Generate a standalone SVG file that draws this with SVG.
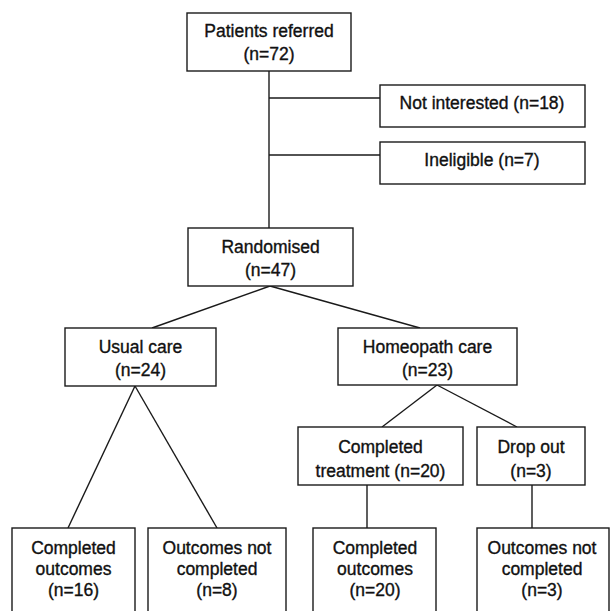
<svg xmlns="http://www.w3.org/2000/svg" width="612" height="611" viewBox="0 0 612 611">
<style>
.box{fill:#fff;stroke:#1a1a1a;stroke-width:1.4}
.t{font-family:"Liberation Sans",Arial,sans-serif;font-size:17.5px;fill:#111;stroke:#111;stroke-width:0.35;text-anchor:middle}
.c{stroke:#1a1a1a;stroke-width:1.4;fill:none}
</style>
<rect width="612" height="611" fill="#fff"/>
<g id="connectors">
<line class="c" x1="269" y1="71" x2="269" y2="228"/>
<line class="c" x1="269" y1="98" x2="380" y2="98"/>
<line class="c" x1="269" y1="155" x2="380" y2="155"/>
<line class="c" x1="270" y1="286" x2="152" y2="328"/>
<line class="c" x1="270" y1="286" x2="420" y2="328"/>
<line class="c" x1="135" y1="386" x2="68" y2="528"/>
<line class="c" x1="135" y1="386" x2="217" y2="528"/>
<line class="c" x1="437" y1="385" x2="382" y2="427"/>
<line class="c" x1="437" y1="385" x2="517" y2="427"/>
<line class="c" x1="367" y1="485" x2="367" y2="528"/>
<line class="c" x1="532" y1="485" x2="532" y2="528"/>
</g>
<g id="referred">
<rect class="box" x="187" y="13" width="164" height="58"/>
<text class="t" x="269" y="37">Patients referred</text>
<text class="t" x="269" y="60">(n=72)</text>
</g>
<g id="notinterested">
<rect class="box" x="380" y="85" width="205" height="42"/>
<text class="t" x="482" y="109">Not interested (n=18)</text>
</g>
<g id="ineligible">
<rect class="box" x="380" y="142" width="205" height="42"/>
<text class="t" x="482" y="166">Ineligible (n=7)</text>
</g>
<g id="randomised">
<rect class="box" x="188" y="228" width="165" height="58"/>
<text class="t" x="270.5" y="253">Randomised</text>
<text class="t" x="270.5" y="276">(n=47)</text>
</g>
<g id="usual">
<rect class="box" x="65" y="328" width="151" height="58"/>
<text class="t" x="140.5" y="353">Usual care</text>
<text class="t" x="140.5" y="376">(n=24)</text>
</g>
<g id="homeopath">
<rect class="box" x="338" y="328" width="179" height="57"/>
<text class="t" x="427.5" y="353">Homeopath care</text>
<text class="t" x="427.5" y="376">(n=23)</text>
</g>
<g id="completedtreatment">
<rect class="box" x="298" y="427" width="165" height="58"/>
<text class="t" x="380.5" y="453">Completed</text>
<text class="t" x="380.5" y="477">treatment (n=20)</text>
</g>
<g id="dropout">
<rect class="box" x="477" y="427" width="108" height="58"/>
<text class="t" x="531" y="453">Drop out</text>
<text class="t" x="531" y="477">(n=3)</text>
</g>
<g id="usualcompleted">
<rect class="box" x="12" y="528" width="123" height="100"/>
<text class="t" x="73.5" y="554">Completed</text>
<text class="t" x="73.5" y="575">outcomes</text>
<text class="t" x="73.5" y="596">(n=16)</text>
</g>
<g id="usualnotcompleted">
<rect class="box" x="148" y="528" width="138" height="100"/>
<text class="t" x="217" y="554">Outcomes not</text>
<text class="t" x="217" y="575">completed</text>
<text class="t" x="217" y="596">(n=8)</text>
</g>
<g id="homeocompleted">
<rect class="box" x="313" y="528" width="123" height="100"/>
<text class="t" x="375" y="554">Completed</text>
<text class="t" x="375" y="575">outcomes</text>
<text class="t" x="375" y="596">(n=20)</text>
</g>
<g id="homeonotcompleted">
<rect class="box" x="477" y="528" width="132" height="100"/>
<text class="t" x="542" y="554">Outcomes not</text>
<text class="t" x="542" y="575">completed</text>
<text class="t" x="542" y="596">(n=3)</text>
</g>
</svg>
